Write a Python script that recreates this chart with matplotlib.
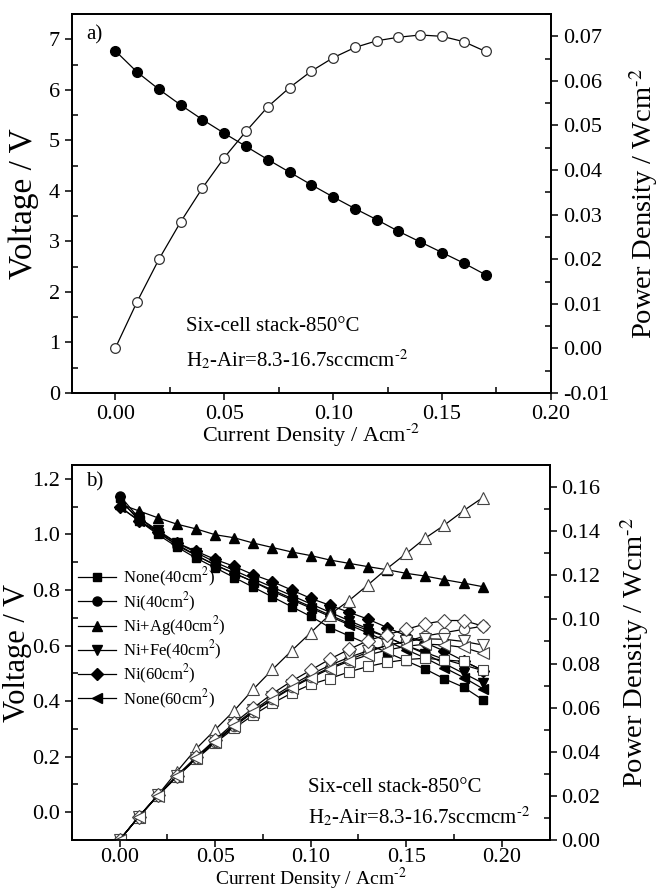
import matplotlib
matplotlib.use('Agg')
import matplotlib.pyplot as plt
from matplotlib.ticker import MultipleLocator

plt.rcParams['font.family'] = ['Liberation Serif', 'DejaVu Serif']
plt.rcParams['mathtext.fontset'] = 'stix'
plt.rcParams['axes.unicode_minus'] = False
plt.rcParams['font.size'] = 15

# ---- panel a) data: six-cell stack
I_a = [0.00, 0.01, 0.02, 0.03, 0.04, 0.05, 0.06, 0.07, 0.08,
       0.09, 0.10, 0.11, 0.12, 0.13, 0.14, 0.15, 0.16, 0.17]
V_a = [6.77, 6.35, 6.01, 5.70, 5.41, 5.14, 4.88, 4.62, 4.37,
       4.12, 3.88, 3.65, 3.43, 3.20, 2.99, 2.78, 2.57, 2.34]
P_a = [0.0001, 0.0105, 0.0200, 0.0284, 0.0360, 0.0428, 0.0487, 0.0542, 0.0585,
       0.0622, 0.0652, 0.0675, 0.0690, 0.0698, 0.0703, 0.0700, 0.0688, 0.0666]

# ---- panel b) data: current density and per-sample voltage / power
I_b = [0.00, 0.01, 0.02, 0.03, 0.04, 0.05, 0.06, 0.07, 0.08, 0.09,
       0.10, 0.11, 0.12, 0.13, 0.14, 0.15, 0.16, 0.17, 0.18, 0.19]
labels_b = ['None(40cm$^2$)', 'Ni(40cm$^2$)', 'Ni+Ag(40cm$^2$)',
            'Ni+Fe(40cm$^2$)', 'Ni(60cm$^2$)', 'None(60cm$^2$)']
V_none40 = [1.13, 1.05, 1.00, 0.955, 0.915, 0.88, 0.845, 0.81, 0.775, 0.74,
            0.705, 0.665, 0.635, 0.605, 0.575, 0.545, 0.515, 0.48, 0.45, 0.405]
V_ni40 = [1.14, 1.06, 1.01, 0.96, 0.925, 0.89, 0.86, 0.83, 0.80, 0.77,
          0.74, 0.71, 0.68, 0.655, 0.63, 0.60, 0.575, 0.55, 0.53, 0.51]
V_niag40 = [1.11, 1.085, 1.06, 1.037, 1.02, 0.999, 0.988, 0.969, 0.953, 0.937,
            0.924, 0.908, 0.896, 0.884, 0.873, 0.86, 0.85, 0.837, 0.825, 0.812]
V_nife40 = [1.12, 1.06, 1.015, 0.97, 0.935, 0.90, 0.87, 0.84, 0.81, 0.78,
            0.75, 0.72, 0.69, 0.66, 0.63, 0.60, 0.57, 0.535, 0.50, 0.465]
V_ni60 = [1.10, 1.05, 1.01, 0.97, 0.94, 0.91, 0.885, 0.855, 0.83, 0.80,
          0.77, 0.745, 0.72, 0.695, 0.665, 0.635, 0.61, 0.58, 0.545, 0.51]
V_none60 = [1.10, 1.05, 1.005, 0.965, 0.925, 0.89, 0.86, 0.83, 0.795, 0.765,
            0.735, 0.705, 0.675, 0.645, 0.615, 0.585, 0.555, 0.52, 0.485, 0.445]

P_none40 = [0.0, 0.0105, 0.0200, 0.0287, 0.0366, 0.0440, 0.0507, 0.0567, 0.0620, 0.0666,
            0.0705, 0.0732, 0.0762, 0.0787, 0.0805, 0.0818, 0.0824, 0.0816, 0.0810, 0.0770]
P_ni40 = [0.0, 0.0106, 0.0202, 0.0288, 0.0370, 0.0445, 0.0516, 0.0581, 0.0640, 0.0693,
          0.0740, 0.0781, 0.0816, 0.0852, 0.0882, 0.0900, 0.0925, 0.0940, 0.0955, 0.0969]
P_niag40 = [0.0, 0.0104, 0.0204, 0.0310, 0.0413, 0.0500, 0.0587, 0.0684, 0.0773, 0.0858,
            0.0940, 0.1022, 0.1085, 0.1157, 0.1231, 0.1299, 0.1369, 0.1428, 0.1493, 0.1552]
P_nife40 = [0.0, 0.0106, 0.0203, 0.0291, 0.0374, 0.0450, 0.0522, 0.0588, 0.0648, 0.0702,
            0.0750, 0.0792, 0.0828, 0.0858, 0.0882, 0.0900, 0.0912, 0.0910, 0.0900, 0.0884]
P_ni60 = [0.0, 0.0105, 0.0202, 0.0291, 0.0376, 0.0455, 0.0531, 0.0599, 0.0664, 0.0720,
          0.0770, 0.0820, 0.0864, 0.0904, 0.0931, 0.0955, 0.0980, 0.0995, 0.0995, 0.0970]
P_none60 = [0.0, 0.0105, 0.0201, 0.0290, 0.0370, 0.0445, 0.0516, 0.0581, 0.0636, 0.0689,
            0.0735, 0.0776, 0.0810, 0.0839, 0.0861, 0.0878, 0.0888, 0.0884, 0.0873, 0.0846]

V_b = [V_none40, V_ni40, V_niag40, V_nife40, V_ni60, V_none60]
P_b = [P_none40, P_ni40, P_niag40, P_nife40, P_ni60, P_none60]
markers_b = ['s', 'o', '^', 'v', 'D', '<']
msizes_b = [6, 6.5, 7, 7, 6, 7]

XLAB = 'Current Density / Acm$^{\\text{-}2}$'
PLAB = 'Power Density / Wcm$^{\\text{-}2}$'
GAS = 'H$_2$-Air=8.3-16.7sccmcm$^{\\text{-}2}$'


def style_axis(ax):
    ax.tick_params(which='major', direction='out', length=5, width=1.1, labelsize=16)
    ax.tick_params(which='minor', direction='in', length=4, width=1.1)
    ax.tick_params(axis='x', which='both', top=False)
    for sp in ax.spines.values():
        sp.set_linewidth(1.3)


fig = plt.figure(figsize=(6.59, 8.94), dpi=100)

# ---------------- a)
ax1 = fig.add_axes([0.109, 0.5604, 0.727, 0.4239])
ax1r = ax1.twinx()
ax1.plot(I_a, V_a, '-', color='black', lw=0.9, marker='o', ms=7,
         mfc='black', mec='black', zorder=3)
ax1r.plot(I_a, P_a, '-', color='black', lw=0.9, marker='o', ms=7,
          mfc='white', mec='#333333', mew=0.9)
ax1.set_xlim(-0.02, 0.20)
ax1.set_ylim(0, 7.5)
ax1r.set_ylim(-0.01, 0.075)
ax1.xaxis.set_major_locator(MultipleLocator(0.05))
ax1.xaxis.set_minor_locator(MultipleLocator(0.025))
ax1.yaxis.set_major_locator(MultipleLocator(1))
ax1.yaxis.set_minor_locator(MultipleLocator(0.5))
ax1r.yaxis.set_major_locator(MultipleLocator(0.01))
ax1r.yaxis.set_minor_locator(MultipleLocator(0.005))
ax1.xaxis.set_major_formatter(lambda v, p: f'{v:.2f}')
ax1r.yaxis.set_major_formatter(lambda v, p: f'{v:.2f}')
ax1.set_xlabel(XLAB, fontsize=16, va='top')
ax1.xaxis.set_label_coords(0.5, -0.0765)
ax1.set_ylabel('Voltage / V', fontsize=24)
ax1.yaxis.set_label_coords(-0.068, 0.5)
ax1r.set_ylabel(PLAB, fontsize=20.5, labelpad=13)
ax1.text(0.03, 0.945, 'a)', transform=ax1.transAxes, fontsize=15, va='center')
ax1.text(0.238, 0.175, 'Six-cell stack-850°C', transform=ax1.transAxes, fontsize=15, va='center')
ax1.text(0.238, 0.087, GAS, transform=ax1.transAxes, fontsize=15, va='center')
style_axis(ax1)
style_axis(ax1r)

# ---------------- b)
ax2 = fig.add_axes([0.109, 0.0604, 0.725, 0.41946])
ax2r = ax2.twinx()
for V, P, m, ms, lab in zip(V_b, P_b, markers_b, msizes_b, labels_b):
    ax2.plot(I_b, V, '-', color='black', lw=0.9, marker=m, ms=ms,
             mfc='black', mec='black', label=lab, zorder=3)
    ax2r.plot(I_b, P, '-', color='black', lw=0.9, marker=m, ms=ms + 1,
              mfc='white', mec='#444444', mew=0.8)
ax2.set_xlim(-0.025, 0.225)
ax2.set_ylim(-0.1, 1.25)
ax2r.set_ylim(0, 0.17)
ax2.xaxis.set_major_locator(MultipleLocator(0.05))
ax2.xaxis.set_minor_locator(MultipleLocator(0.025))
ax2.yaxis.set_major_locator(MultipleLocator(0.2))
ax2.yaxis.set_minor_locator(MultipleLocator(0.1))
ax2r.yaxis.set_major_locator(MultipleLocator(0.02))
ax2r.yaxis.set_minor_locator(MultipleLocator(0.01))
ax2.xaxis.set_major_formatter(lambda v, p: f'{v:.2f}')
ax2.yaxis.set_major_formatter(lambda v, p: f'{v:.1f}')
ax2r.yaxis.set_major_formatter(lambda v, p: f'{v:.2f}')
ax2.set_xlabel(XLAB, fontsize=14, va='top')
ax2.xaxis.set_label_coords(0.5, -0.0693)
ax2.set_ylabel('Voltage / V', fontsize=22)
ax2.yaxis.set_label_coords(-0.084, 0.5)
ax2r.set_ylabel(PLAB, fontsize=20.5, labelpad=13)
ax2.text(0.03, 0.955, 'b)', transform=ax2.transAxes, fontsize=15, va='center')
ax2.text(0.495, 0.14, 'Six-cell stack-850°C', transform=ax2.transAxes, fontsize=15, va='center')
ax2.text(0.495, 0.06, GAS, transform=ax2.transAxes, fontsize=15, va='center')
ax2.legend(loc='upper left', bbox_to_anchor=(0.012, 0.73), frameon=False, fontsize=12,
           handlelength=2.3, handletextpad=0.4, labelspacing=0.05, borderpad=0,
           borderaxespad=0)
style_axis(ax2)
style_axis(ax2r)
ax2.tick_params(axis='x', which='major', pad=0.5)
ax1.set_zorder(ax1r.get_zorder() + 1)
ax1.patch.set_visible(False)

fig.savefig('out.png', dpi=100)
